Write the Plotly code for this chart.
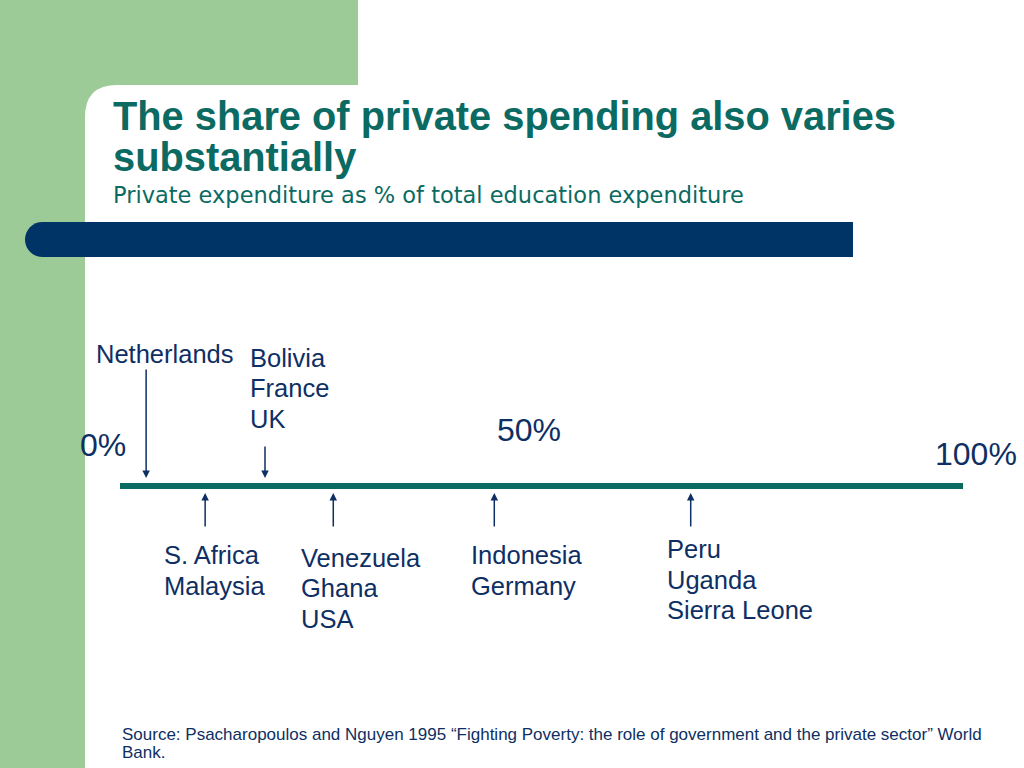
import plotly.graph_objects as go

# ---- data ----
groups_above = [["Netherlands"], ["Bolivia", "France", "UK"]]
values_above = [3.1, 17.2]
groups_below = [["S. Africa", "Malaysia"], ["Venezuela", "Ghana", "USA"],
                ["Indonesia", "Germany"], ["Peru", "Uganda", "Sierra Leone"]]
values_below = [10.1, 25.3, 44.4, 67.7]
scale_values = [0, 50, 100]
scale_labels = ["0%", "50%", "100%"]

title_lines = ["The share of private spending also varies", "substantially"]
subtitle = "Private expenditure as % of total education expenditure"
source_lines = ["Source: Psacharopoulos and Nguyen 1995 \u201cFighting Poverty: the role of "
                "government and the private sector\u201d World", "Bank."]

W, H = 1024, 768
GREEN = "#9CCB98"
NAVY_BAR = "#003366"
TEAL = "#0B6A62"
TEXT = "#0E2F63"
ARIAL = "Liberation Sans, Arial, sans-serif"
DEJAVU = "DejaVu Sans, sans-serif"
ASC = {ARIAL: 0.905, DEJAVU: 0.928}
XSHIFT = -1.5  # compensates annotation box padding

# axis: 0% -> 120px, 100% -> 963px
R = 100 * W / (963 - 120)
x0 = -120 * R / W
x1 = x0 + R


def px(x):
    return x / W


fig = go.Figure()

# timeline
fig.add_trace(go.Scatter(x=[scale_values[0], scale_values[-1]], y=[486, 486], mode="lines",
                         line=dict(color=TEAL, width=6), hoverinfo="skip", showlegend=False))

shapes = []
shapes.append(dict(type="rect", xref="paper", yref="y", x0=0, x1=px(358), y0=0, y1=H,
                   fillcolor=GREEN, line_width=0, layer="below"))
shapes.append(dict(type="path", xref="paper", yref="y",
                   path=f"M {px(85)},{H} L {px(85)},117 Q {px(85)},85 {px(117)},85 L {px(1024)},85 L {px(1024)},{H} Z",
                   fillcolor="white", line_width=0, layer="below"))
k = 0.5523 * 17.5
shapes.append(dict(type="path", xref="paper", yref="y",
                   path=(f"M {px(853)},222 L {px(42.5)},222 "
                         f"C {px(42.5 - k)},222 {px(25)},{239.5 - k} {px(25)},239.5 "
                         f"C {px(25)},{239.5 + k} {px(42.5 - k)},257 {px(42.5)},257 "
                         f"L {px(853)},257 Z"),
                   fillcolor=NAVY_BAR, line_width=0, layer="below"))

ann = []


def add_lines(x, baseline, lines, size, spacing, family, color, bold=False):
    for i, line in enumerate(lines):
        b = baseline + i * spacing
        txt = f"<b>{line}</b>" if bold else line
        ann.append(dict(x=px(x + XSHIFT), y=b - ASC[family] * size, xref="paper", yref="y",
                        xanchor="left", yanchor="top", borderpad=0, text=txt,
                        showarrow=False, font=dict(family=family, size=size, color=color)))


# title & subtitle
add_lines(113, 129, title_lines, 39.8, 41, ARIAL, TEAL, bold=True)
add_lines(113.5, 201.7, [subtitle], 22.5, 0, DEJAVU, TEAL)

# scale labels
scale_pos = [(80, 455), (497, 440), (935, 464.3)]
for (lx, lb), lab in zip(scale_pos, scale_labels):
    add_lines(lx, lb, [lab], 32, 0, ARIAL, TEXT)

LS = 25.5
SP = 30.5
# above labels & arrows
above_text_pos = [(96, 362), (250, 365.7)]
above_tail = [368, 445]
for g, v, (lx, lb), ty in zip(groups_above, values_above, above_text_pos, above_tail):
    add_lines(lx, lb, g, LS, SP, ARIAL, TEXT)
    ann.append(dict(x=v, y=478, xref="x", yref="y", ax=v, ay=ty, axref="x", ayref="y",
                    text="", showarrow=True, arrowhead=2, arrowsize=1, arrowwidth=1.5,
                    arrowcolor=TEXT))

below_text_pos = [(164.5, 563.3), (301, 566), (471.5, 563.3), (667.5, 557.3)]
for g, v, (lx, lb) in zip(groups_below, values_below, below_text_pos):
    add_lines(lx, lb, g, LS, SP, ARIAL, TEXT)
    ann.append(dict(x=v, y=493, xref="x", yref="y", ax=v, ay=528, axref="x", ayref="y",
                    text="", showarrow=True, arrowhead=2, arrowsize=1, arrowwidth=1.5,
                    arrowcolor=TEXT))

# source
add_lines(122, 739.3, source_lines, 17, 18, ARIAL, TEXT)

fig.update_layout(
    width=W, height=H, margin=dict(l=0, r=0, t=0, b=0),
    paper_bgcolor="white", plot_bgcolor="rgba(0,0,0,0)",
    xaxis=dict(range=[x0, x1], visible=False, fixedrange=True),
    yaxis=dict(range=[H, 0], visible=False, fixedrange=True),
    shapes=shapes, annotations=ann, showlegend=False,
)

fig.write_html("out.html", config={"displayModeBar": False},
               post_script="document.body.style.margin='0';document.body.style.overflow='hidden';")
